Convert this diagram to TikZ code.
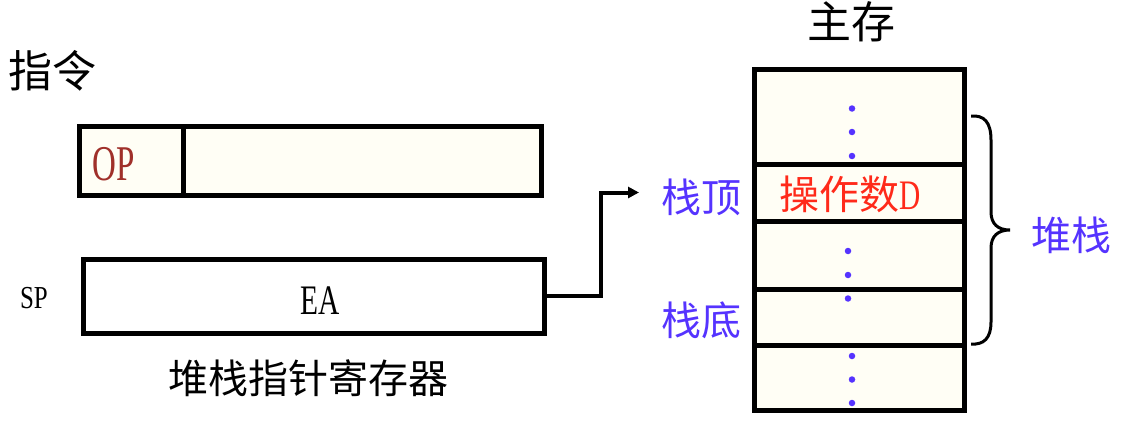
\documentclass[tikz,border=0pt]{standalone}
\usepackage{fontspec}
\setmainfont{Liberation Serif}
\newfontfamily\cjk{Noto Sans CJK SC}
\usetikzlibrary{arrows.meta}
\definecolor{cream}{HTML}{FFFEF5}
\definecolor{lblblue}{HTML}{5533FF}
\definecolor{opred}{HTML}{A0302A}
\definecolor{dred}{HTML}{FF2A1A}
\newcommand{\nar}[2]{\scalebox{#1}[1]{#2}}
\begin{document}
\begin{tikzpicture}[x=1pt,y=-1pt,
  box/.style={draw,line width=5pt,fill=cream,inner sep=0pt,outer sep=0pt,rectangle},
  cjklbl/.style={inner sep=0pt,font=\cjk\fontsize{40}{40}\selectfont},
  dot/.style={circle,fill=lblblue,inner sep=0pt,minimum size=6.5pt}]
\useasboundingbox (0,0) rectangle (1122,431);
% instruction
\node[cjklbl,font=\cjk\fontsize{44}{44}\selectfont] (instr) at (53,71) {指令};
\node[box,minimum width=104pt,minimum height=69pt] (op) at (131,160.5) {};
\node[box,minimum width=358pt,minimum height=69pt] (addr) at (362,160.5) {};
\node[inner sep=0pt,text=opred,font=\fontsize{50}{50}\selectfont] (optxt) at (114,164) {\nar{0.66}{OP}};
% SP register
\node[inner sep=0pt,font=\fontsize{32}{32}\selectfont] (splbl) at (34,298) {\nar{0.78}{SP}};
\node[box,fill=white,minimum width=460.5pt,minimum height=73.5pt] (sp) at (313.75,296.25) {};
\node[inner sep=0pt,font=\fontsize{42}{42}\selectfont] (ea) at (320,301) {\nar{0.7}{EA}};
\node[cjklbl] (spname) at (308,378.5) {堆栈指针寄存器};
% memory
\node[cjklbl,font=\cjk\fontsize{44}{44}\selectfont] (mem) at (851,22) {主存};
\node[box,minimum width=210.5pt,minimum height=95pt] (m1) at (859.25,116.5) {};
\node[box,minimum width=210.5pt,minimum height=57pt] (m2) at (859.25,192.5) {};
\node[box,minimum width=210.5pt,minimum height=68.5pt] (m3) at (859.25,255.25) {};
\node[box,minimum width=210.5pt,minimum height=55.5pt] (m4) at (859.25,317.25) {};
\node[box,minimum width=210.5pt,minimum height=65.5pt] (m5) at (859.25,377.75) {};
\node[dot] (d1) at (852,108.5) {};
\node[dot] (d2) at (852,132) {};
\node[dot] (d3) at (852,156) {};
\node[dot] (d4) at (848,251) {};
\node[dot] (d5) at (848,275) {};
\node[dot] (d6) at (848,298.5) {};
\node[dot] (d7) at (852,356) {};
\node[dot] (d8) at (852,379.5) {};
\node[dot] (d9) at (852,403) {};
\node[cjklbl,text=dred] (opd) at (850.5,194) {操作数\nar{0.7}{\rmfamily\fontsize{42}{42}\selectfont D}};
\node[cjklbl,text=lblblue] (top) at (701,197) {栈顶};
\node[cjklbl,text=lblblue] (bot) at (701,320) {栈底};
\node[cjklbl,text=lblblue] (stk) at (1071.5,235) {堆栈};
% arrow
\coordinate (tip) at (639,192.5);
\draw[line width=4pt,-{Triangle[length=11pt,width=11pt]}] (sp.east) -- (601,296.25) |- (tip);
% brace
\draw[line width=3pt]
  (971,116) .. controls (984,115) and (991,122) .. (991,140) -- (991,212)
  .. controls (991,224) and (998,230) .. (1010,230)
  .. controls (998,230) and (991,236) .. (991,248) -- (991,322)
  .. controls (991,338) and (984,345) .. (971,344);
\end{tikzpicture}
\end{document}
